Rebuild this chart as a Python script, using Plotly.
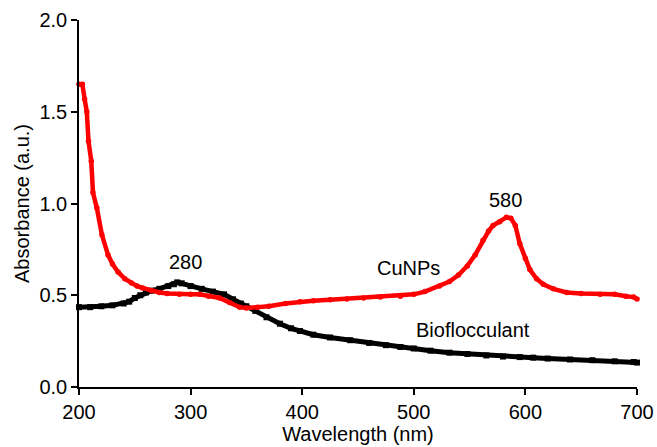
import plotly.graph_objects as go

# CuNPs (red) absorbance spectrum
cu_wl = [200, 203, 205, 207, 208.5, 211, 212.5, 216, 220.5, 226, 230, 235, 241, 247, 252, 257,
         265, 272, 279, 290, 300, 308, 316, 326, 335, 344, 350, 360, 370, 385, 398, 410,
         425, 440, 455, 470, 488, 500, 510, 523, 532, 540, 548, 555, 562, 567, 571, 577,
         583, 587, 591, 595, 600, 604, 610, 616, 625, 637, 650, 667, 680, 690, 697, 700]
cu_abs = [1.65, 1.65, 1.57, 1.50, 1.34, 1.23, 1.06, 0.975, 0.83, 0.72, 0.67, 0.627, 0.59, 0.567, 0.55, 0.54,
          0.525, 0.515, 0.51, 0.505, 0.505, 0.505, 0.495, 0.485, 0.46, 0.435, 0.43, 0.435, 0.44, 0.455, 0.465, 0.47,
          0.475, 0.48, 0.485, 0.49, 0.495, 0.505, 0.52, 0.55, 0.575, 0.61, 0.66, 0.72, 0.80, 0.85, 0.88, 0.90,
          0.925, 0.92, 0.88, 0.78, 0.70, 0.64, 0.59, 0.56, 0.535, 0.515, 0.51, 0.505, 0.505, 0.495, 0.49, 0.48]

# Bioflocculant (black) absorbance spectrum
bf_wl = [200, 210, 220, 230, 240, 245, 250, 255, 260, 265, 272, 280, 285, 288, 292, 300, 310, 320,
         330, 338, 345, 350, 358, 368, 380, 390, 398, 410, 425, 443, 460, 475, 488, 500, 515,
         532, 548, 565, 580, 595, 607, 620, 640, 660, 680, 697, 700]
bf_abs = [0.435, 0.435, 0.44, 0.445, 0.455, 0.465, 0.485, 0.50, 0.515, 0.525, 0.535, 0.55, 0.56, 0.57, 0.565, 0.55, 0.535, 0.52,
          0.505, 0.478, 0.455, 0.44, 0.415, 0.38, 0.345, 0.32, 0.305, 0.285, 0.27, 0.255, 0.24, 0.228, 0.218, 0.21, 0.198,
          0.187, 0.18, 0.172, 0.166, 0.163, 0.16, 0.155, 0.15, 0.146, 0.14, 0.136, 0.133]

x_ticks = [200, 300, 400, 500, 600, 700]
y_ticks = [0.0, 0.5, 1.0, 1.5, 2.0]

# Text labels placed on the chart
label_text = ["280", "580", "CuNPs", "Bioflocculant"]
label_x = [295, 582.5, 495, 553]
label_y = [0.68, 1.02, 0.65, 0.31]

fig = go.Figure()
fig.add_trace(go.Scatter(x=bf_wl, y=bf_abs, mode="lines+markers",
                         line=dict(color="black", width=5),
                         marker=dict(color="black", size=6, symbol="square"),
                         showlegend=False, cliponaxis=False))
fig.add_trace(go.Scatter(x=cu_wl, y=cu_abs, mode="lines+markers",
                         line=dict(color="#ff0000", width=4.5),
                         marker=dict(color="#ff0000", size=5.5),
                         showlegend=False, cliponaxis=False))

font = dict(family="Liberation Sans, Arial, sans-serif", size=17, color="black")
for txt, x, y in zip(label_text, label_x, label_y):
    fig.add_annotation(x=x, y=y, text=txt, showarrow=False, font=dict(font, size=20))

fig.update_layout(
    width=657, height=447,
    margin=dict(l=79, r=20, t=20, b=60, autoexpand=False),
    paper_bgcolor="white", plot_bgcolor="white",
    font=font,
)
fig.update_xaxes(range=[200, 700], tickvals=x_ticks, ticktext=[str(v) for v in x_ticks],
                 showgrid=False, zeroline=False, showline=True, linecolor="black", linewidth=1.5,
                 ticks="outside", ticklen=6, tickcolor="black", tickwidth=1.5,
                 title=dict(text="Wavelength (nm)", standoff=2), tickfont=dict(font, size=20),
                 automargin=False)
fig.update_yaxes(range=[0, 2.0], tickvals=y_ticks, ticktext=[f"{v:.1f}" for v in y_ticks],
                 showgrid=False, zeroline=False, showline=True, linecolor="black", linewidth=1.5,
                 ticks="outside", ticklen=6, tickcolor="black", tickwidth=1.5,
                 title=dict(text="Absorbance (a.u.)", standoff=4), tickfont=dict(font, size=20),
                 automargin=False)

fig.write_html("out.html", config={"displayModeBar": False},
               post_script="document.body.style.margin='0';document.body.style.overflow='hidden';")
